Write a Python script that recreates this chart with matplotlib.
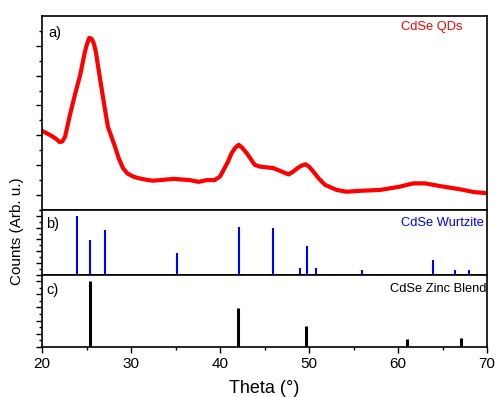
import matplotlib
matplotlib.use("Agg")
import matplotlib.pyplot as plt
import numpy as np

plt.rcParams["font.family"] = ["Liberation Sans", "DejaVu Sans"]

# measured XRD pattern of the QDs (arb. units)
theta_qd = [20.0, 20.9, 21.5, 22.0, 22.3, 22.6, 23.1, 23.7, 24.3, 24.55, 24.8,
            25.05, 25.3, 25.55, 25.8, 26.05, 26.3, 26.9, 27.4, 28.2, 28.6,
            29.1, 29.6, 30.3, 30.9, 31.9, 32.5, 34.8, 36.6, 37.6, 38.5, 39.4,
            40.0, 40.4, 40.9, 41.3, 41.7, 42.1, 42.5, 43.0, 43.4, 43.9, 44.5,
            46.0, 47.7, 48.2, 48.7, 49.2, 49.6, 50.0, 50.5, 51.1, 51.8, 53.1,
            54.2, 55.7, 58.0, 60.2, 61.7, 63.0, 65.1, 67.0, 68.5, 70.0]
counts_qd = [2.15, 2.01, 1.90, 1.77, 1.80, 1.96, 2.63, 3.36, 4.03, 4.40, 4.77,
             5.05, 5.26, 5.24, 5.10, 4.80, 4.31, 3.19, 2.29, 1.62, 1.25,
             0.90, 0.72, 0.61, 0.56, 0.50, 0.48, 0.54, 0.50, 0.44, 0.50, 0.50,
             0.62, 0.84, 1.12, 1.40, 1.58, 1.68, 1.58, 1.40, 1.23, 1.01, 0.95,
             0.90, 0.69, 0.78, 0.90, 0.99, 1.03, 0.95, 0.78, 0.55, 0.34, 0.17,
             0.11, 0.14, 0.17, 0.28, 0.39, 0.39, 0.28, 0.19, 0.10, 0.06]

# reference patterns (relative intensity, %)
theta_wz = [23.9, 25.4, 27.1, 35.2, 42.1, 45.9, 49.0, 49.8, 50.8, 52.2, 56.0,
            58.2, 63.9, 66.4, 68.0, 69.1]
int_wz = [100, 59, 76, 37, 81, 80, 12, 49, 12, 2, 8, 2, 25, 8, 8, 2]

theta_zb = [25.4, 42.0, 49.7, 61.0, 67.1]
int_zb = [100, 59, 32, 12, 14]

fig = plt.figure(figsize=(4.97, 3.97), dpi=100)
gs = fig.add_gridspec(3, 1, height_ratios=[194, 65, 72], hspace=0,
                      left=0.0845, right=0.98, top=0.960, bottom=0.126)
ax_a = fig.add_subplot(gs[0])
ax_b = fig.add_subplot(gs[1], sharex=ax_a)
ax_c = fig.add_subplot(gs[2], sharex=ax_a)

ax_a.plot(theta_qd, counts_qd, color="red", lw=3, solid_capstyle="round",
          solid_joinstyle="round")
ax_a.set_ylim(-0.5, 6.0)
ax_a.set_yticks(np.arange(0, 6, 1))
ax_a.set_yticks(np.arange(-0.5, 6, 0.5), minor=True)

ax_b.vlines(theta_wz, 0, int_wz, color="blue", lw=1.5)
ax_b.set_ylim(0, 110)
ax_b.set_yticks(np.arange(0, 101, 20))
ax_b.set_yticks(np.arange(0, 111, 10), minor=True)

ax_c.vlines(theta_zb, 0, int_zb, color="black", lw=2.2)
ax_c.set_ylim(0, 109)
ax_c.set_yticks(np.arange(0, 101, 20))
ax_c.set_yticks(np.arange(0, 101, 10), minor=True)

ax_c.set_xlim(20, 70)
ax_c.set_xticks(np.arange(20, 71, 10))
ax_c.set_xticks(np.arange(25, 70, 10), minor=True)
ax_c.set_xlabel("Theta (°)", fontsize=13, labelpad=6)

for ax in (ax_a, ax_b, ax_c):
    for sp in ax.spines.values():
        sp.set_linewidth(1.2)
    ax.tick_params(axis="y", which="both", direction="out", labelleft=False,
                   right=False, width=1.0)
    ax.tick_params(axis="y", which="major", length=4)
    ax.tick_params(axis="y", which="minor", length=2.5)
    ax.tick_params(axis="x", which="both", direction="out", top=False,
                   labelbottom=False, width=1.0)
    ax.tick_params(axis="x", which="major", length=4)
    ax.tick_params(axis="x", which="minor", length=2.5)
ax_c.tick_params(axis="x", labelbottom=True, labelsize=11)
ax_a.tick_params(axis="x", which="both", length=0)
ax_b.tick_params(axis="x", which="both", length=0)

ax_a.text(0.015, 0.95, "a)", transform=ax_a.transAxes, fontsize=10.5,
          va="top", ha="left")
ax_a.text(0.945, 0.975, "CdSe QDs", transform=ax_a.transAxes, fontsize=9.3,
          color="red", va="top", ha="right")
ax_b.text(0.01, 0.89, "b)", transform=ax_b.transAxes, fontsize=10.5,
          va="top", ha="left")
ax_b.text(0.993, 0.89, "CdSe Wurtzite", transform=ax_b.transAxes, fontsize=9.3,
          color="blue", va="top", ha="right")
ax_c.text(0.01, 0.89, "c)", transform=ax_c.transAxes, fontsize=10.5,
          va="top", ha="left")
ax_c.text(0.998, 0.89, "CdSe Zinc Blend", transform=ax_c.transAxes,
          fontsize=9.3, color="black", va="top", ha="right")

fig.text(0.034, 0.418, "Counts (Arb. u.)", rotation=90, fontsize=11,
         ha="center", va="center")

fig.savefig("out.png", dpi=100)
